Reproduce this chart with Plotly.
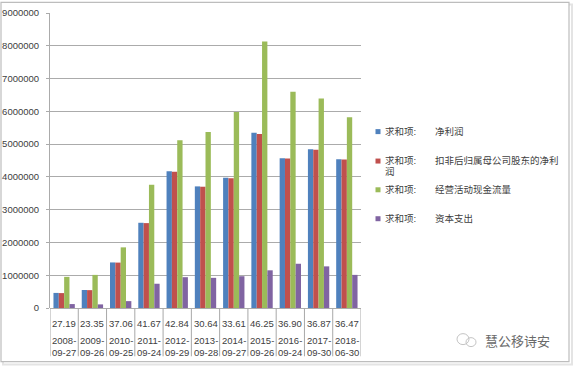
import plotly.graph_objects as go

# ---- data ----
dates = ["2008-09-27", "2009-09-26", "2010-09-25", "2011-09-24", "2012-09-29",
         "2013-09-28", "2014-09-27", "2015-09-26", "2016-09-24", "2017-09-30", "2018-06-30"]
pe_labels = ["27.19", "23.35", "37.06", "41.67", "42.84", "30.64", "33.61",
             "46.25", "36.90", "36.87", "36.47"]
net_profit = [460000, 550000, 1390000, 2600000, 4170000, 3710000, 3970000,
              5350000, 4570000, 4840000, 4540000]
net_profit_deducted = [455000, 545000, 1385000, 2590000, 4160000, 3700000, 3960000,
                       5310000, 4560000, 4830000, 4530000]
operating_cf = [950000, 1010000, 1850000, 3760000, 5120000, 5370000, 5980000,
                8130000, 6600000, 6390000, 5820000]
capex = [120000, 110000, 210000, 740000, 940000, 920000, 970000,
         1150000, 1350000, 1270000, 1010000]

series_names = ["净利润", "扣非后归属母公司股东的净利<br>润", "经营活动现金流量", "资本支出"]
series_vals = [net_profit, net_profit_deducted, operating_cf, capex]
colors = ["#4F81BD", "#C0504D", "#9BBB59", "#8064A2"]
yticks = [0, 1000000, 2000000, 3000000, 4000000, 5000000, 6000000, 7000000, 8000000, 9000000]

# ---- layout geometry (pixels) ----
W, H = 575, 370
L, R, T, B = 50, 361, 12.6, 308.3


def fx(px):
    return (px - L) / (R - L)


def fy(py):
    return (B - py) / (B - T)


fig = go.Figure()
for name, vals, col in zip(series_names, series_vals, colors):
    fig.add_trace(go.Bar(x=list(range(len(dates))), y=vals, name=name,
                         marker=dict(color=col, line=dict(width=0)),
                         showlegend=False))

font_family = "Liberation Sans, Arial, Noto Sans CJK SC, sans-serif"
txt_col = "#404040"

shapes = []
annotations = []

# outer frame with soft shadow
shapes.append(dict(type="rect", xref="paper", yref="paper",
                   x0=fx(3), x1=fx(572), y0=fy(365), y1=fy(4),
                   line=dict(color="#E4E4E4", width=2), layer="below"))
shapes.append(dict(type="rect", xref="paper", yref="paper",
                   x0=fx(1), x1=fx(569), y0=fy(362), y1=fy(2),
                   line=dict(color="#BDBDBD", width=1.2), fillcolor="white", layer="below"))

# category dividers below the axis
n = len(dates)
for i in range(n + 1):
    shapes.append(dict(type="line", xref="x", yref="paper",
                       x0=i - 0.5, x1=i - 0.5, y0=fy(356.7), y1=0,
                       line=dict(color="#A8A8A8", width=1)))

# x labels: PE row and date row
for i, (d, pe) in enumerate(zip(dates, pe_labels)):
    annotations.append(dict(x=i, y=fy(323.5), xref="x", yref="paper", text=pe,
                            showarrow=False, xanchor="center", yanchor="middle",
                            font=dict(size=9.5, color=txt_col, family=font_family)))
    y_, md = d[:4], d[5:]
    annotations.append(dict(x=i, y=fy(346.5), xref="x", yref="paper",
                            text=f"{y_}-<br>{md}",
                            showarrow=False, xanchor="center", yanchor="middle",
                            font=dict(size=9.5, color=txt_col, family=font_family)))

# legend (drawn manually)
legend_y = [131, 160.5, 189.3, 218.3]
for name, col, ly in zip(series_names, colors, legend_y):
    shapes.append(dict(type="rect", xref="paper", yref="paper",
                       x0=fx(375.5), x1=fx(380.5), y0=fy(ly + 3), y1=fy(ly - 2),
                       fillcolor=col, line=dict(width=0)))
    annotations.append(dict(x=fx(383), y=fy(ly), xref="paper", yref="paper",
                            text="求和项:", showarrow=False, xanchor="left", yanchor="middle",
                            font=dict(size=9.5, color=txt_col, family=font_family)))
    if "<br>" in name:
        first, second = name.split("<br>")
        annotations.append(dict(x=fx(432.5), y=fy(ly), xref="paper", yref="paper",
                                text=first, showarrow=False, xanchor="left", yanchor="middle",
                                font=dict(size=9.5, color=txt_col, family=font_family)))
        annotations.append(dict(x=fx(383), y=fy(ly + 11), xref="paper", yref="paper",
                                text=second, showarrow=False, xanchor="left", yanchor="middle",
                                font=dict(size=9.5, color=txt_col, family=font_family)))
    else:
        annotations.append(dict(x=fx(432.5), y=fy(ly), xref="paper", yref="paper",
                                text=name, showarrow=False, xanchor="left", yanchor="middle",
                                font=dict(size=9.5, color=txt_col, family=font_family)))

# watermark
shapes.append(dict(type="circle", xref="paper", yref="paper",
                   x0=fx(457), x1=fx(469), y0=fy(345), y1=fy(334),
                   line=dict(color="#C4C4C4", width=1)))
shapes.append(dict(type="circle", xref="paper", yref="paper",
                   x0=fx(466), x1=fx(476), y0=fy(347), y1=fy(338),
                   line=dict(color="#C4C4C4", width=1)))
annotations.append(dict(x=fx(483), y=fy(340.5), xref="paper", yref="paper",
                        text="慧公移诗安", showarrow=False, xanchor="left", yanchor="middle",
                        font=dict(size=13, color="#6A6A6A", family="Noto Sans CJK SC, sans-serif")))

fig.update_layout(
    width=W, height=H,
    margin=dict(l=L, r=W - R, t=T, b=H - B, pad=0, autoexpand=False),
    paper_bgcolor="white", plot_bgcolor="white",
    barmode="group", bargap=0.245, bargroupgap=0,
    showlegend=False,
    shapes=shapes, annotations=annotations,
    xaxis=dict(range=[-0.5, n - 0.5], showticklabels=False, showgrid=False,
               zeroline=False, showline=False, ticks="", fixedrange=True,
               automargin=False),
    yaxis=dict(range=[0, 9000000], tickvals=yticks, ticktext=[str(v) for v in yticks],
               showgrid=True, gridcolor="#ABABAB", gridwidth=1,
               zeroline=True, zerolinecolor="#ABABAB", zerolinewidth=1,
               showline=True, linecolor="#ABABAB", linewidth=1,
               ticks="outside", ticklen=3, tickcolor="#ABABAB",
               tickfont=dict(size=9.5, color=txt_col, family=font_family),
               ticklabelstandoff=5, fixedrange=True, automargin=False),
)

fig.write_html("out.html", config={"displayModeBar": False},
               post_script="document.body.style.margin='0px';")
